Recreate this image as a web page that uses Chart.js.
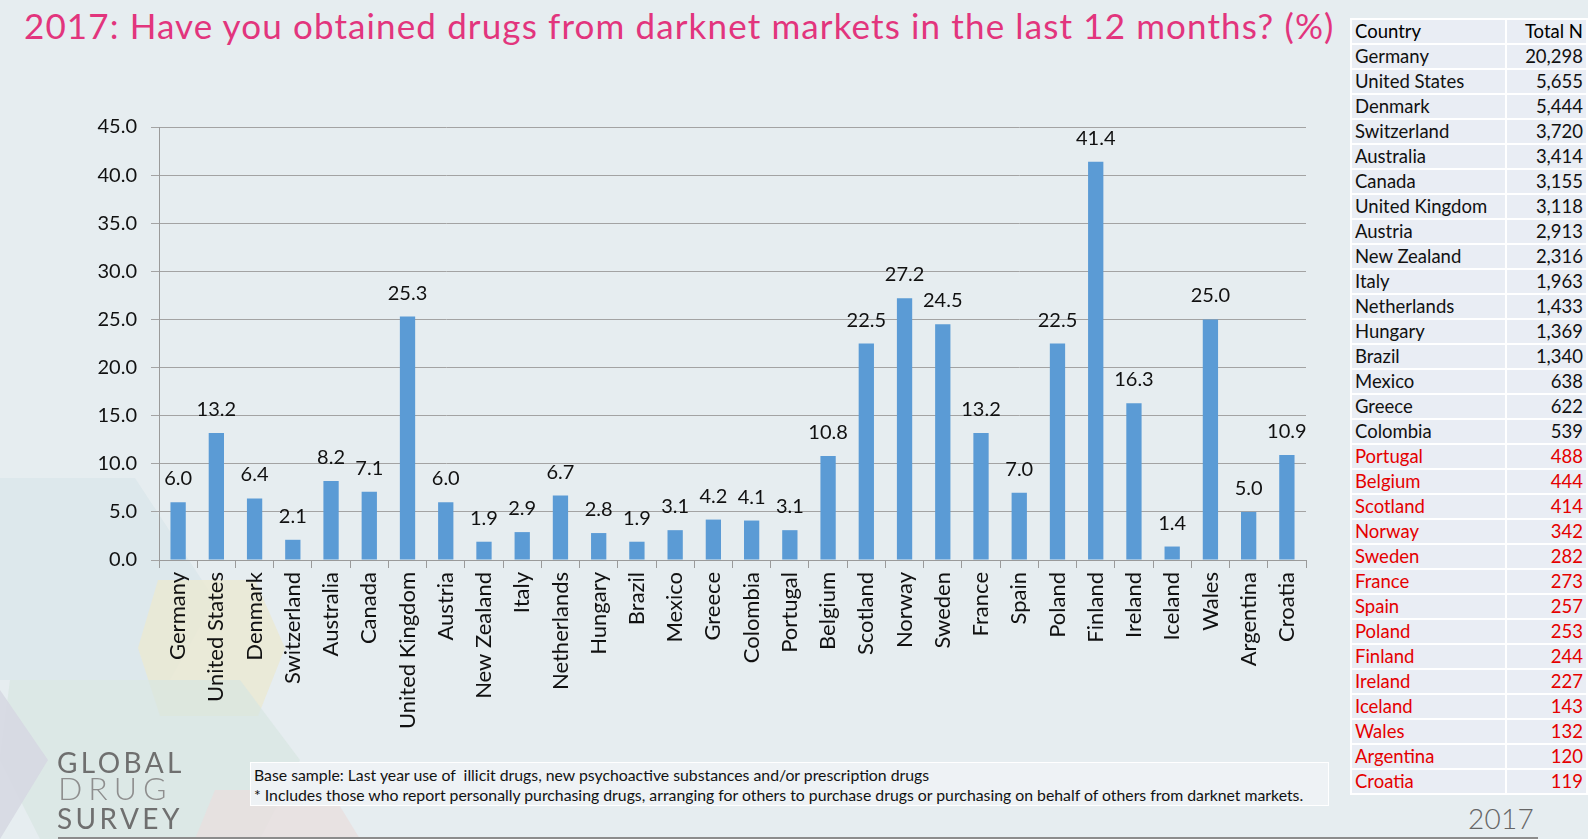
<!DOCTYPE html>
<html><head><meta charset="utf-8">
<script src="https://cdn.jsdelivr.net/npm/chart.js@4/dist/chart.umd.min.js"></script>
<style>
html,body{margin:0;padding:0}
body{width:1588px;height:839px;background:#e6edf0;overflow:hidden;position:relative;font-family:Lato,"Open Sans",sans-serif}
#bg{position:absolute;left:0;top:0}
#title{position:absolute;left:24px;top:4px;font-size:35px;color:#e2357d;white-space:nowrap;letter-spacing:1.12px}
#wrap{position:absolute;left:0;top:101px;width:1320px;height:649px}
#tbl{position:absolute;left:1350px;top:18px;border-collapse:collapse;font-size:18.5px}
#tbl td{background:#e9edf4;border:2px solid #ffffff;height:23px;padding:0 3px;line-height:23px;white-space:nowrap}
#tbl td.c{width:148px;text-align:left}
#tbl td.n{width:73px;text-align:right}
#note{position:absolute;left:250px;top:762px;width:1079px;height:44px;background:#eef2f5;border:1px solid #ffffff;font-size:15.8px;color:#111;line-height:20px;padding:2px 0 0 3px;box-sizing:border-box;white-space:nowrap}
.logo{position:absolute;left:57px;font-size:28px;letter-spacing:3.4px;color:#6f6f6f;line-height:28px}
#year{position:absolute;left:1468px;top:803px;font-size:28px;font-weight:300;color:#666;line-height:30px;letter-spacing:0.3px}
#rule{position:absolute;left:58px;top:837px;width:1480px;height:2px;background:#8c8c8c}
</style></head>
<body>
<svg id="bg" width="1588" height="839">
<polygon points="0,478 135,478 215,600 170,680 0,680" fill="#d9e6ea" opacity="0.7"/>
<polygon points="158,580 255,580 285,648 258,716 160,716 138,648" fill="#ebe8d2" opacity="0.8"/>
<polygon points="10,680 240,680 300,760 260,839 40,839 0,760" fill="#d7e5e1" opacity="0.7"/>
<polygon points="0,690 48,760 0,839" fill="#d6d8e2" opacity="0.9"/>
<polygon points="215,790 330,790 360,839 195,839" fill="#e8dfde" opacity="0.8"/>
</svg>
<div id="title">2017: Have you obtained drugs from darknet markets in the last 12 months? (%)</div>
<div id="wrap"><canvas id="c"></canvas></div>
<table id="tbl"></table>
<div id="note">Base sample: Last year use of&nbsp; illicit drugs, new psychoactive substances and/or prescription drugs<br>* Includes those who report personally purchasing drugs, arranging for others to purchase drugs or purchasing on behalf of others from darknet markets.</div>
<div class="logo" style="top:748px">GLOBAL</div>
<div class="logo" style="top:772px;font-weight:300;color:#8e8e8e;letter-spacing:6px;font-size:32px;line-height:32px;left:58px">DRUG</div>
<div class="logo" style="top:804px">SURVEY</div>
<div id="year">2017</div>
<div id="rule"></div>
<script>
const categories = ["Germany","United States","Denmark","Switzerland","Australia","Canada","United Kingdom","Austria","New Zealand","Italy","Netherlands","Hungary","Brazil","Mexico","Greece","Colombia","Portugal","Belgium","Scotland","Norway","Sweden","France","Spain","Poland","Finland","Ireland","Iceland","Wales","Argentina","Croatia"];
const percentObtained = [6.0,13.2,6.4,2.1,8.2,7.1,25.3,6.0,1.9,2.9,6.7,2.8,1.9,3.1,4.2,4.1,3.1,10.8,22.5,27.2,24.5,13.2,7.0,22.5,41.4,16.3,1.4,25.0,5.0,10.9];
const tableCountries = ["Germany","United States","Denmark","Switzerland","Australia","Canada","United Kingdom","Austria","New Zealand","Italy","Netherlands","Hungary","Brazil","Mexico","Greece","Colombia","Portugal","Belgium","Scotland","Norway","Sweden","France","Spain","Poland","Finland","Ireland","Iceland","Wales","Argentina","Croatia"];
const tableTotalN = [20298,5655,5444,3720,3414,3155,3118,2913,2316,1963,1433,1369,1340,638,622,539,488,444,414,342,282,273,257,253,244,227,143,132,120,119];
const yTickValues = [0,5,10,15,20,25,30,35,40,45];

// table
const tbl = document.getElementById('tbl');
let html = '<tr><td class="c">Country</td><td class="n">Total N</td></tr>';
tableCountries.forEach((c,i)=>{
  const col = tableTotalN[i] < 500 ? '#e50000' : '#111';
  html += `<tr><td class="c" style="color:${col}">${c}</td><td class="n" style="color:${col}">${tableTotalN[i].toLocaleString('en-US')}</td></tr>`;
});
tbl.innerHTML = html;

const valueLabels = {
  id:'valueLabels',
  afterDatasetsDraw(chart){
    const ctx = chart.ctx;
    const meta = chart.getDatasetMeta(0);
    ctx.save();
    ctx.font = '20px Lato';
    ctx.fillStyle = '#111';
    ctx.textAlign = 'center';
    ctx.textBaseline = 'alphabetic';
    meta.data.forEach((bar,i)=>{
      ctx.fillText(percentObtained[i].toFixed(1), bar.x, bar.y - 17);
    });
    ctx.restore();
  }
};

Chart.defaults.font.family = 'Lato';
new Chart(document.getElementById('c'), {
  type:'bar',
  data:{ labels:categories, datasets:[{ data:percentObtained, backgroundColor:'#5b9bd5', categoryPercentage:1.0, barPercentage:0.4 }]},
  options:{
    responsive:true, maintainAspectRatio:false, animation:false,
    layout:{ padding:{ top:0, right:14, left:0, bottom:0 } },
    plugins:{ legend:{display:false}, tooltip:{enabled:false} },
    scales:{
      x:{
        grid:{ drawOnChartArea:false, tickLength:8, color:'#9a9a9a', offset:true },
        border:{ color:'#9a9a9a' },
        ticks:{ minRotation:90, maxRotation:90, autoSkip:false, font:{size:22}, color:'#111', padding:4 },
        afterFit(s){ s.height = 190; }
      },
      y:{
        min:0, max:45,
        afterBuildTicks(s){ s.ticks = yTickValues.map(v=>({value:v})); },
        ticks:{ callback:v=>Number(v).toFixed(1), font:{size:20}, color:'#111', padding:14 },
        grid:{ color:'#a3a3a3', tickLength:8 },
        border:{ color:'#9a9a9a' },
        afterFit(s){ s.width = 159; }
      }
    }
  },
  plugins:[valueLabels]
});
</script>
</body></html>
